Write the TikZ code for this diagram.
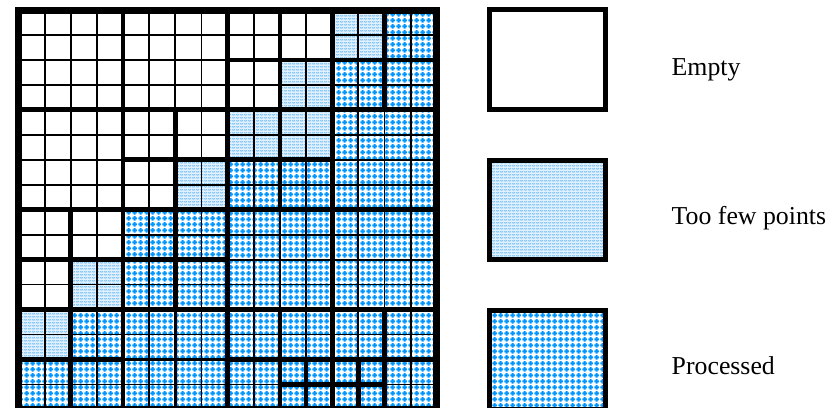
\documentclass[tikz,border=0pt]{standalone}
\usepackage{fontspec}
\setmainfont{Liberation Serif}
\usetikzlibrary{patterns.meta}
\definecolor{pblue}{RGB}{0,150,255}
\definecolor{tfbg}{RGB}{226,241,253}
\definecolor{tfline}{RGB}{105,185,245}
\pgfdeclarepattern{
  name=plusdots,
  type=uncolored,
  bottom left={\pgfpoint{0pt}{0pt}},
  top right={\pgfpoint{6pt}{6pt}},
  tile size={\pgfpoint{6pt}{6pt}},
  code={
    \pgfpathrectangle{\pgfpoint{1.8pt}{0.5pt}}{\pgfpoint{2.4pt}{5pt}}
    \pgfpathrectangle{\pgfpoint{0.5pt}{1.8pt}}{\pgfpoint{5pt}{2.4pt}}
    \pgfusepath{fill}
  }
}
\pgfdeclarepattern{
  name=tfwave,
  type=uncolored,
  bottom left={\pgfpoint{0pt}{0pt}},
  top right={\pgfpoint{4pt}{3pt}},
  tile size={\pgfpoint{4pt}{3pt}},
  code={
    \pgfsetlinewidth{0.7pt}
    \pgfpathmoveto{\pgfpoint{0pt}{1pt}}
    \pgfpathlineto{\pgfpoint{1pt}{2pt}}
    \pgfpathlineto{\pgfpoint{2pt}{1pt}}
    \pgfpathlineto{\pgfpoint{3pt}{2pt}}
    \pgfpathlineto{\pgfpoint{4pt}{1pt}}
    \pgfusepath{stroke}
  }
}
\def\cw{26.14}
\def\rh{24.96}
\def\xo{18.5}
\def\yo{10}
\def\leaves{0/0/4/cE, 4/0/4/cE, 0/4/4/cE, 4/4/2/cE, 6/4/2/cE, 4/6/2/cE, 6/6/2/cT,
8/0/2/cE, 10/0/2/cE, 8/2/2/cE, 10/2/2/cT, 12/0/2/cT, 14/0/2/cP, 12/2/2/cP, 14/2/2/cP,
8/4/2/cT, 10/4/2/cT, 8/6/2/cP, 10/6/2/cP, 12/4/4/cP,
0/8/2/cE, 2/8/2/cE, 0/10/2/cE, 2/10/2/cT, 4/8/2/cP, 6/8/2/cP, 4/10/2/cP, 6/10/2/cP,
0/12/2/cT, 2/12/2/cP, 0/14/2/cP, 2/14/2/cP, 4/12/4/cP,
8/8/4/cP, 12/8/4/cP,
8/12/2/cP, 10/12/2/cP, 8/14/2/cP, 10/14/1/cP, 11/14/1/cP, 10/15/1/cP, 11/15/1/cP,
12/12/2/cP, 14/12/2/cP, 12/14/1/cP, 13/14/1/cP, 12/15/1/cP, 13/15/1/cP, 14/14/2/cP}
\begin{document}
\begin{tikzpicture}[x=1pt,y=-1pt,
  cE/.style={fill=white},
  cT/.style={fill=tfbg, postaction={pattern=tfwave, pattern color=tfline}},
  cP/.style={fill=white, postaction={pattern=plusdots, pattern color=pblue}},
  thinline/.style={draw=black, line width=1.8pt},
  medline/.style={draw=black, line width=2.8pt},
  thickline/.style={draw=black, line width=4.8pt},
  borderline/.style={draw=black, line width=7pt},
  legline/.style={draw=black, line width=5pt},
  lbl/.style={font=\fontsize{25.8pt}{31pt}\selectfont, inner sep=0pt, anchor=base west}]
\useasboundingbox (0,0) rectangle (837,407);
\clip (0,0) rectangle (837,407);
% cell fills
\foreach \c/\r/\s/\t in \leaves {
  \path[\t] ({\xo+\c*\cw},{\yo+\r*\rh}) rectangle ({\xo+(\c+\s)*\cw},{\yo+(\r+\s)*\rh});
}
% fine grid
\foreach \i in {0,...,16} {
  \draw[thinline] ({\xo+\i*\cw},\yo) -- ({\xo+\i*\cw},{\yo+16*\rh});
  \draw[thinline] (\xo,{\yo+\i*\rh}) -- ({\xo+16*\cw},{\yo+\i*\rh});
}
% medium split lines
\draw[medline] ({\xo+6*\cw},{\yo+12*\rh}) -- ({\xo+6*\cw},{\yo+16*\rh});
\draw[medline] ({\xo+4*\cw},{\yo+14*\rh}) -- ({\xo+8*\cw},{\yo+14*\rh});
\draw[medline] ({\xo+10*\cw},{\yo+8*\rh}) -- ({\xo+10*\cw},{\yo+12*\rh});
% node boundaries
\foreach \c/\r/\s/\t in \leaves {
  \draw[thickline] ({\xo+\c*\cw},{\yo+\r*\rh}) rectangle ({\xo+(\c+\s)*\cw},{\yo+(\r+\s)*\rh});
}
% outer border
\draw[borderline] (\xo,\yo) rectangle ({\xo+16*\cw},{\yo+16*\rh});
% legend
\path[cE] (489.2,9.8) rectangle (605.8,109.8);
\draw[legline] (489.2,9.8) rectangle (605.8,109.8);
\path[cT] (489.2,160.2) rectangle (605.8,259.8);
\draw[legline] (489.2,160.2) rectangle (605.8,259.8);
\path[cP] (489.2,310.2) rectangle (605.8,409.8);
\draw[legline] (489.2,310.2) rectangle (605.8,409.8);
\node[lbl] (tEmpty) at (671.5,75) {Empty};
\node[lbl] (tFew) at (671.5,224) {Too few points};
\node[lbl] (tProc) at (671.5,374) {Processed};
\end{tikzpicture}
\end{document}
